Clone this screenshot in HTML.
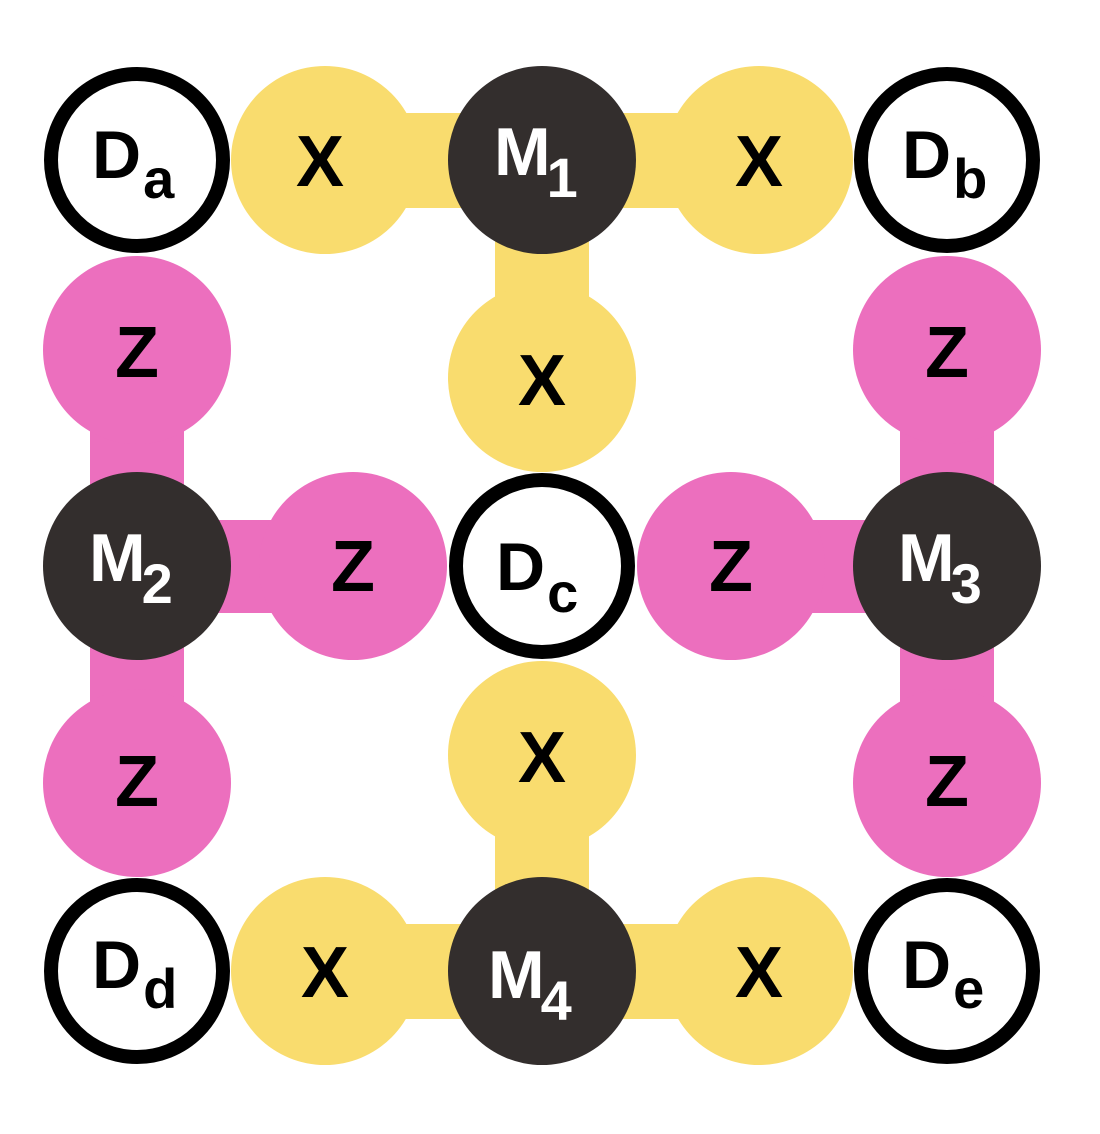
<!DOCTYPE html>
<html><head><meta charset="utf-8"><style>
html,body{margin:0;padding:0;background:#fff}
svg{display:block}
text{font-family:"Liberation Sans",sans-serif;font-weight:bold}
</style></head><body>
<svg width="1100" height="1134" viewBox="0 0 1100 1134">
<g fill="#F9DC6E">
<rect x="325" y="113" width="434" height="95"/>
<rect x="495" y="160" width="94" height="218"/>
<rect x="495" y="755" width="94" height="216"/>
<rect x="325" y="924" width="434" height="95"/>
</g>
<g fill="#EC6FBE">
<rect x="90" y="350" width="94" height="433"/>
<rect x="137" y="520" width="216" height="93"/>
<rect x="900" y="350" width="94" height="433"/>
<rect x="731" y="520" width="216" height="93"/>
</g>
<g fill="#F9DC6E">
<circle cx="325" cy="160" r="94"/>
<circle cx="759" cy="160" r="94"/>
<circle cx="542" cy="378" r="94"/>
<circle cx="542" cy="755" r="94"/>
<circle cx="325" cy="971" r="94"/>
<circle cx="759" cy="971" r="94"/>
</g>
<g fill="#EC6FBE">
<circle cx="137" cy="350" r="94"/>
<circle cx="137" cy="783" r="94"/>
<circle cx="947" cy="350" r="94"/>
<circle cx="947" cy="783" r="94"/>
<circle cx="353" cy="566" r="94"/>
<circle cx="731" cy="566" r="94"/>
</g>
<g fill="#332E2D">
<circle cx="542" cy="160" r="94"/>
<circle cx="137" cy="566" r="94"/>
<circle cx="947" cy="566" r="94"/>
<circle cx="542" cy="971" r="94"/>
</g>
<g fill="#fff" stroke="#000" stroke-width="14">
<circle cx="137" cy="160" r="86"/>
<circle cx="947" cy="160" r="86"/>
<circle cx="542" cy="566" r="86"/>
<circle cx="137" cy="971" r="86"/>
<circle cx="947" cy="971" r="86"/>
</g>
<g font-size="72" fill="#000" text-anchor="middle">
<text x="320" y="186">X</text>
<text x="759" y="186">X</text>
<text x="542" y="405">X</text>
<text x="542" y="782">X</text>
<text x="325" y="997">X</text>
<text x="759" y="997">X</text>
</g>
<g font-size="72" fill="#000" text-anchor="middle">
<text x="137" y="377">Z</text>
<text x="137" y="806">Z</text>
<text x="947" y="377">Z</text>
<text x="947" y="806">Z</text>
<text x="353" y="591">Z</text>
<text x="731" y="591">Z</text>
</g>
<g fill="#000">
<text x="92" y="178" font-size="68">D<tspan font-size="56" dx="2" dy="20">a</tspan></text>
<text x="902" y="178" font-size="68">D<tspan font-size="56" dx="2" dy="20">b</tspan></text>
<text x="496" y="590" font-size="68">D<tspan font-size="56" dx="2" dy="22">c</tspan></text>
<text x="92" y="988" font-size="68">D<tspan font-size="56" dx="2" dy="20">d</tspan></text>
<text x="902" y="988" font-size="68">D<tspan font-size="56" dx="2" dy="20">e</tspan></text>
</g>
<g fill="#fff">
<text x="494" y="175" font-size="68">M<tspan font-size="56" dx="-4" dy="22">1</tspan></text>
<text x="89" y="581" font-size="68">M<tspan font-size="56" dx="-4" dy="22">2</tspan></text>
<text x="898" y="581" font-size="68">M<tspan font-size="56" dx="-4" dy="22">3</tspan></text>
<text x="488" y="998" font-size="68">M<tspan font-size="56" dx="-4" dy="22">4</tspan></text>
</g>
</svg>
</body></html>
